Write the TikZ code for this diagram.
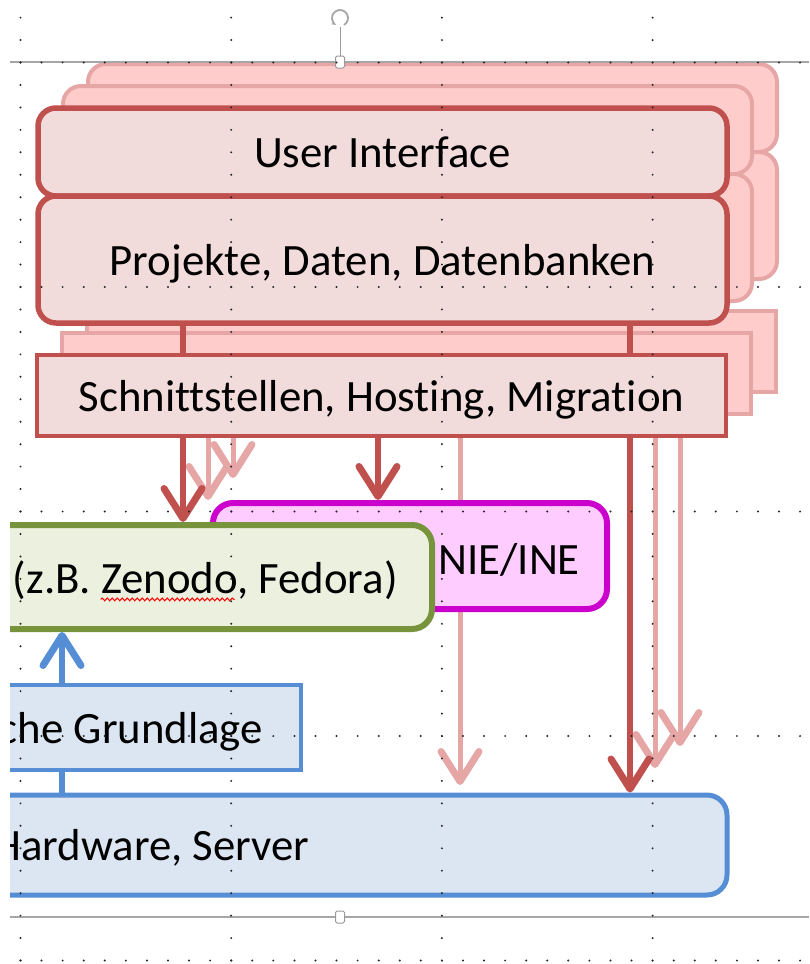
\documentclass[tikz,border=0pt]{standalone}
\usepackage{fontspec}
\setmainfont{Carlito}[Ligatures=NoCommon]
\usetikzlibrary{positioning,arrows.meta,decorations.pathmorphing}

\definecolor{redline}{HTML}{C0504D}
\definecolor{redfill}{HTML}{F2DCDB}
\definecolor{ghostline}{HTML}{E6A6A6}
\definecolor{ghostfill}{HTML}{FFCCCC}
\definecolor{magline}{HTML}{CC00CC}
\definecolor{magfill}{HTML}{FFCCFF}
\definecolor{greenline}{HTML}{77933C}
\definecolor{greenfill}{HTML}{EBF1DE}
\definecolor{blueline}{HTML}{558ED5}
\definecolor{bluefill}{HTML}{DCE6F2}

\newcommand\slidefont{\fontsize{44.8pt}{52pt}\selectfont}

\begin{document}
\begin{tikzpicture}[x=1pt, y=-1pt, font=\slidefont,
    redbox/.style={draw=redline, fill=redfill, line width=5.5pt, rounded corners=18pt, minimum width=689pt, inner sep=0pt, text depth=0pt},
    redflat/.style={draw=redline, fill=redfill, line width=4pt, minimum width=689pt, inner sep=0pt, text depth=0pt},
    ghostbox/.style={draw=ghostline, fill=ghostfill, line width=4pt, rounded corners=18pt, minimum width=689pt},
    ghostflat/.style={draw=ghostline, fill=ghostfill, line width=4pt, minimum width=689pt},
    redbar/.style={draw=redline, line width=6pt},
    tip/.style={-{Straight Barb[length=30pt,width=38pt,line width=7pt,round]}},
    redarrow/.style={draw=redline, line width=6pt, tip},
    ghostarrow/.style={draw=ghostline, line width=5pt, tip},
    bluearrow/.style={draw=blueline, line width=6pt, tip},
    magbox/.style={draw=magline, fill=magfill, line width=6pt, rounded corners=20pt},
    greenbox/.style={draw=greenline, fill=greenfill, line width=6pt, rounded corners=20pt},
    bluebox/.style={draw=blueline, fill=bluefill, line width=5pt, rounded corners=20pt},
    blueflat/.style={draw=blueline, fill=bluefill, line width=4.5pt},
    lbl/.style={inner sep=0pt, text depth=0pt},
    spellcheck/.style={draw=red, line width=1pt, decorate, decoration={snake, amplitude=1.4pt, segment length=5pt}},
    selline/.style={draw=black!35, line width=2pt},
    handle/.style={draw=black!40, fill=white, line width=1pt, rounded corners=1.5pt, minimum width=9pt, minimum height=12pt, inner sep=0pt},
    griddot/.style={fill=black!85}]

\useasboundingbox (0,0) rectangle (809,964);
\clip (10,0) rectangle (809,964);

% columns for the connectors
\coordinate (c1) at (183,0);
\coordinate (c2) at (378,0);
\coordinate (c3) at (630,0);
\coordinate (c4) at (460,0);
\coordinate (cb) at (62,0);

% stacked copies behind the front layer
\foreach \k in {2,1}{
  \begin{scope}[shift={(25*\k,-22*\k)}]
    \node[ghostbox, minimum height=88pt] (gui\k) at (382.5,152) {};
    \node[ghostbox, minimum height=127pt] (gproj\k) at (382.5,259.5) {};
    \node[ghostflat, minimum height=81pt] (gschn\k) at (381.5,395.5) {};
    \draw[ghostarrow] ([xshift=148pt]gschn\k.south west) -- ++(0,84);
    \draw[ghostarrow] ([xshift=595pt]gschn\k.south west) -- ++(0,352);
  \end{scope}
}

% front layer
\node[redbox, minimum height=88pt] (ui) at (382.5,152) {User Interface};
\node[redbox, minimum height=127pt] (proj) at (382.5,259.5) {Projekte, Daten, Datenbanken};
\node[redflat, minimum height=81pt] (schn) at (381.5,395.5) {Schnittstellen, Hosting, Migration};
\draw[redbar] (proj.south -| c1) -- (schn.north -| c1);
\draw[redbar] (proj.south -| c3) -- (schn.north -| c3);
\draw[ghostarrow] (schn.south -| c4) -- ++(0,347);

% lower boxes
\node[magbox, minimum width=394pt, minimum height=106pt] (nie) at (410,556) {};
\node[lbl, left=30pt of nie.east, yshift=-3pt] (nietxt) {NIE/INE};
\node[greenbox, minimum width=532pt, minimum height=104pt] (repo) at (166,577) {};
\node[lbl, left=37pt of repo.east] (repotxt) {(z.B. Zenodo, Fedora)};
\draw[spellcheck] ([shift={(88pt,-6pt)}]repotxt.base west) -- ([shift={(222pt,-6pt)}]repotxt.base west);
\node[bluebox, minimum width=827pt, minimum height=100pt] (hw) at (313.5,845) {};
\node[lbl, left=420pt of hw.east] (hwtxt) {Hardware, Server};
\draw[bluearrow] (hw.north -| cb) -- (repo.south -| cb);
\node[blueflat, minimum width=401pt, minimum height=85pt] (grund) at (100.5,727.5) {};
\node[lbl, left=40pt of grund.east] (grundtxt) {che Grundlage};

% connectors from the front layer
\draw[redarrow] (schn.south -| c1) -- (repo.north -| c1);
\draw[redarrow] (schn.south -| c2) -- (nie.north -| c2);
\draw[redarrow] (schn.south -| c3) -- (hw.north -| c3);

% selection frame
\draw[selline] (10,62) -- (809,62);
\draw[selline] (10,917) -- (809,917);
\draw[draw=black!40, line width=1pt] (340,27) -- (340,57);
\draw[draw=black!35, line width=1.8pt, -{Stealth[length=5pt]}] (340,18) ++(-60:8pt) arc (-60:240:8pt);
\node[handle] (htop) at (340,62) {};
\node[handle] (hbot) at (340,917) {};

% dotted grid
\foreach \gx in {20.5,231.2,441.9,652.6}
  \foreach \n in {-2,...,40}
    \fill[griddot] (\gx,62.5+22.45*\n) circle (1.1pt);
\foreach \gy in {62.5,287,511.5,736,960.5}
  \foreach \n in {0,...,37}
    \fill[griddot] (20.5+21.07*\n,\gy) circle (1.1pt);
\end{tikzpicture}
\end{document}
